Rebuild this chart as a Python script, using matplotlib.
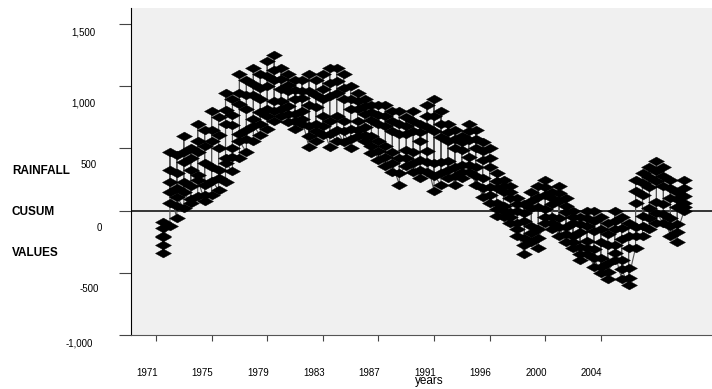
import matplotlib
matplotlib.use("Agg")
import matplotlib.pyplot as plt
import matplotlib.transforms as mtransforms
from matplotlib.path import Path

plt.rcParams['font.family'] = ['Liberation Sans', 'DejaVu Sans']

# Rainfall CUSUM values, six monthly values per half-year column, 1971 onwards
cusum = [
    -90, -140, -210, -280, -340, -200,
    -120, 60, 230, 470, 330, 150,
    -60, 40, 180, 450, 300, 110,
    20, 230, 390, 600, 470, 150,
    60, 200, 330, 500, 420, 90,
    120, 290, 470, 700, 560, 250,
    80, 210, 380, 650, 520, 130,
    130, 350, 560, 800, 650, 240,
    170, 330, 500, 750, 610, 260,
    230, 420, 700, 950, 810, 380,
    320, 500, 690, 900, 770, 430,
    420, 620, 860, 1100, 950, 560,
    470, 650, 820, 1050, 930, 580,
    560, 740, 930, 1150, 1020, 680,
    610, 790, 900, 1100, 990, 700,
    660, 820, 1000, 1200, 1080, 760,
    720, 880, 1050, 1250, 1130, 800,
    760, 880, 980, 1150, 1060, 820,
    710, 840, 960, 1100, 1010, 780,
    660, 780, 900, 1050, 970, 720,
    700, 800, 910, 1050, 960, 740,
    510, 680, 850, 1100, 960, 600,
    560, 700, 830, 1050, 930, 640,
    610, 760, 900, 1100, 980, 680,
    510, 720, 920, 1150, 1030, 620,
    560, 760, 950, 1150, 1040, 650,
    550, 720, 900, 1100, 990, 640,
    500, 660, 820, 1000, 900, 580,
    600, 720, 820, 950, 880, 650,
    560, 670, 780, 900, 840, 610,
    460, 600, 730, 850, 790, 520,
    410, 560, 700, 850, 770, 480,
    360, 520, 680, 850, 760, 430,
    310, 470, 640, 800, 720, 380,
    210, 420, 620, 800, 700, 300,
    360, 490, 620, 750, 680, 420,
    310, 470, 640, 800, 720, 380,
    260, 410, 560, 700, 630, 330,
    310, 480, 670, 850, 760, 390,
    160, 380, 640, 900, 760, 280,
    210, 390, 590, 800, 700, 300,
    260, 400, 560, 700, 630, 330,
    210, 350, 500, 650, 580, 280,
    260, 370, 490, 600, 550, 310,
    310, 430, 570, 700, 640, 370,
    210, 350, 500, 650, 580, 280,
    110, 260, 410, 550, 480, 180,
    60, 190, 350, 500, 420, 130,
    -40, 60, 180, 300, 240, 10,
    -50, 40, 150, 250, 200, 0,
    -100, -10, 100, 200, 150, -50,
    -200, -100, 0, 100, 50, -150,
    -350, -220, -80, 50, -20, -280,
    -250, -120, 20, 150, 80, -180,
    -300, -150, 30, 200, 110, -220,
    -100, 10, 130, 250, 190, -50,
    -150, -50, 50, 150, 100, -100,
    -200, -60, 80, 200, 140, -130,
    -250, -130, -10, 100, 40, -190,
    -300, -200, -100, 0, -50, -250,
    -400, -290, -170, -50, -110, -350,
    -350, -240, -120, 0, -60, -300,
    -450, -310, -160, 0, -80, -380,
    -500, -380, -250, -50, -150, -450,
    -550, -420, -280, -100, -190, -490,
    -400, -280, -150, 0, -80, -340,
    -550, -400, -230, -50, -140, -470,
    -600, -460, -300, -100, -200, -540,
    -300, -130, 60, 250, 160, -200,
    -200, -40, 130, 300, 220, -120,
    -150, 20, 190, 350, 270, -60,
    -100, 70, 240, 400, 320, -20,
    -100, 50, 200, 350, 280, -30,
    -200, -60, 100, 250, 180, -120,
    -250, -110, 30, 150, 90, -170,
    0, 60, 120, 250, 180, 30,
]
months_per_column = 6

year_labels = ['1971', '1975', '1979', '1983', '1987', '1991', '1996', '2000', '2004']
year_ticks = [0, 4, 8, 12, 16, 20, 24, 28, 32]
y_ticks = [1500, 1000, 500, 0, -500, -1000]
y_labels = ['1,500', '1,000', '500', '0', '-500', '-1,000']

# each column of months sits half a year to the right of the previous one
xpos = [0.5 + (i // months_per_column) * 0.5 for i in range(len(cusum))]

fig = plt.figure(figsize=(7.12, 3.89), dpi=100)
ax = fig.add_axes([131 / 712, 1 - 335 / 389, 1 - 131 / 712, 327 / 389])
ax.set_facecolor('#f0f0f0')

diamond = Path([(-1, 0), (0, 0.55), (1, 0), (0, -0.55), (-1, 0)],
               [Path.MOVETO, Path.LINETO, Path.LINETO, Path.LINETO, Path.CLOSEPOLY])

ax.axhline(0, color='black', lw=1.1, zorder=1)
ax.plot(xpos, cusum, color='#555555', lw=0.8, zorder=2)
ax.plot(xpos, cusum, ls='none', marker=diamond, ms=11.5, mfc='black', mec='black',
        mew=0.3, zorder=3)

ax.set_xlim(-1.8, 40)
ax.set_ylim(-1000, 1630)

for s in ['top', 'right']:
    ax.spines[s].set_visible(False)
ax.spines['left'].set_color('black')
ax.spines['bottom'].set_color('#555555')

ax.set_yticks(y_ticks)
ax.set_yticklabels(y_labels, fontsize=7)
ax.tick_params(axis='y', length=8.6, width=0.8, color='#444444', pad=17)
y_shift = {'1,500': (0, -7), '1,000': (0, -16), '500': (1, -16),
           '0': (7, -16), '-500': (3, -15), '-1,000': (-3, -7)}
for lab in ax.get_yticklabels():
    dx, dy = y_shift[lab.get_text()]
    lab.set_transform(lab.get_transform() +
                      mtransforms.ScaledTranslation(dx / 100, dy / 100, fig.dpi_scale_trans))

ax.set_xticks(year_ticks)
ax.set_xticklabels(year_labels, fontsize=7)
ax.tick_params(axis='x', length=4.5, width=0.8, color='#444444', pad=19)
for lab in ax.get_xticklabels():
    lab.set_transform(lab.get_transform() +
                      mtransforms.ScaledTranslation(-9 / 100, 0, fig.dpi_scale_trans))

fig.text(429 / 712, 1 - 381 / 389, 'years', ha='center', va='center', fontsize=8.5)

fig.text(12 / 712, 1 - 171 / 389, 'RAINFALL', ha='left', va='center', fontsize=8.5, fontweight='bold')
fig.text(12 / 712, 1 - 212 / 389, 'CUSUM', ha='left', va='center', fontsize=8.5, fontweight='bold')
fig.text(12 / 712, 1 - 253 / 389, 'VALUES', ha='left', va='center', fontsize=8.5, fontweight='bold')

fig.savefig('out.png', dpi=100)
